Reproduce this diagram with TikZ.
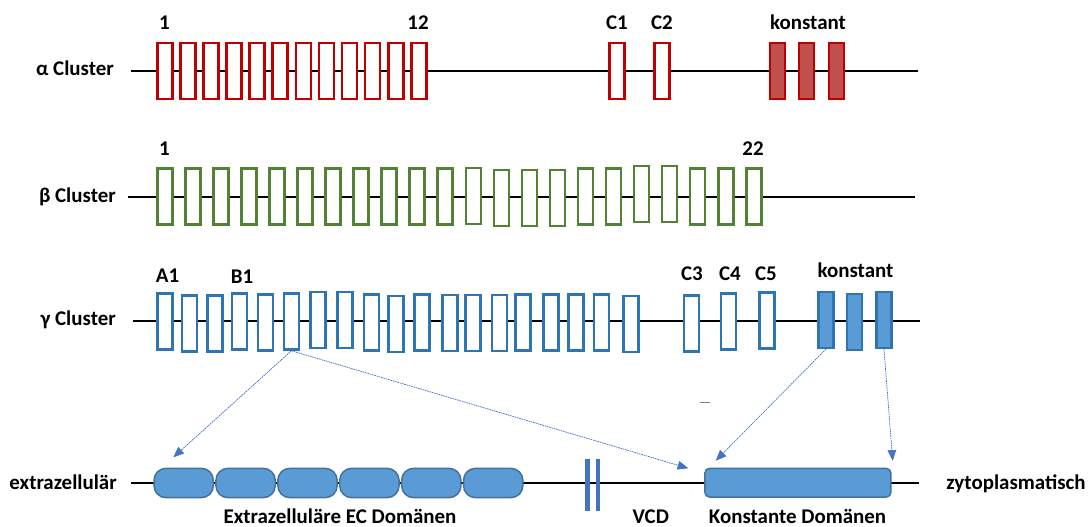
\documentclass[tikz,border=0pt]{standalone}
\usepackage{fontspec}
\setmainfont{Carlito}
\usetikzlibrary{arrows.meta}
\definecolor{redB}{HTML}{C00000}
\definecolor{redF}{HTML}{C0504D}
\definecolor{grnB}{HTML}{548235}
\definecolor{bluB}{HTML}{2E75B6}
\definecolor{bluF}{HTML}{5B9BD5}
\definecolor{bluD}{HTML}{41719C}
\definecolor{arrC}{HTML}{4472C4}
\begin{document}
\begin{tikzpicture}[x=0.75pt,y=-0.75pt,
  lbl/.style={font=\fontsize{15.7}{18}\selectfont\bfseries, inner sep=0, anchor=base},
  backbone/.style={draw=black, line width=1.1pt},
  exon/.style={draw, line width=1.9pt, fill=white, minimum width=11.25pt, minimum height=42pt, inner sep=0},
  aex/.style={exon, draw=redB},
  akon/.style={exon, draw=redB, fill=redF},
  bex/.style={exon, draw=grnB},
  gex/.style={exon, draw=bluB},
  gkon/.style={exon, draw=bluB, fill=bluF},
  ecdom/.style={draw=bluD, line width=1.1pt, fill=bluF, minimum width=44.5pt, minimum height=22pt, inner sep=0, rounded corners=9pt},
  kdom/.style={draw=bluD, line width=1.1pt, fill=bluF, minimum width=139.5pt, minimum height=21.5pt, inner sep=0, rounded corners=3.5pt},
  vbar/.style={fill=arrC, draw=none, minimum width=3.6pt, minimum height=39pt, inner sep=0},
  link/.style={draw=arrC, line width=0.55pt, dash pattern=on 1.2pt off 0.6pt, -{Triangle[length=8pt,width=6.5pt]}}
]
\useasboundingbox (0,0) rectangle (1088,527);

% ---------- backbones ----------
\coordinate (aL) at (131,71);   \coordinate (aR) at (918,71);
\coordinate (bL) at (128,197);  \coordinate (bR) at (915,197);
\coordinate (gL) at (133,321);  \coordinate (gR) at (920,321);
\coordinate (eL) at (131,483);  \coordinate (eR) at (919,483);
\draw[backbone] (aL) -- (aR);
\draw[backbone] (bL) -- (bR);
\draw[backbone] (gL) -- (gR);
\draw[backbone] (eL) -- (eR);

% ---------- alpha cluster ----------
\node[lbl, anchor=base east] (alab) at (114,76) {α Cluster};
\foreach \i in {1,...,12}{
  \node[aex] (a\i) at ({164.75+23.1*(\i-1)},71) {};
}
\node[aex] (ac1) at (617,71) {};
\node[aex] (ac2) at (662,71) {};
\node[akon] (ak1) at (777.5,71) {};
\node[akon] (ak2) at (806.7,71) {};
\node[akon] (ak3) at (836.5,71) {};
\node[lbl] (at1) at (164.5,29.5) {1};
\node[lbl] (at12) at (418,29.5) {12};
\node[lbl] (atc1) at (617,29.5) {C1};
\node[lbl] (atc2) at (662,29.5) {C2};
\node[lbl] (atk) at (808,29.5) {konstant};

% ---------- beta cluster ----------
\node[lbl, anchor=base east] (blab) at (116,203) {β Cluster};
\foreach \i/\dy in {1/0,2/0,3/0,4/0,5/0,6/0,7/0,8/0,9/0,10/0,11/0,12/-0.5,13/1.5,14/1.5,15/1.5,16/0,17/0,18/-2.5,19/-2.5,20/0,21/0,22/0}{
  \node[bex] (b\i) at ({164.75+28.05*(\i-1)},{196.3+\dy}) {};
}
\node[lbl] (bt1) at (164.5,156) {1};
\node[lbl] (bt22) at (753,156) {22};

% ---------- gamma cluster ----------
\node[lbl, anchor=base east] (glab) at (116,325) {γ Cluster};
\foreach \x/\dy [count=\i] in {156/-1,180.7/1,206/1,230.7/-1,256.7/0,282.7/-1,309/-2.5,336/-2.5,362.7/0,387.3/1.5,413/0,441/0.7,464/0.7,490.7/0.7,514.3/0,542/0,567.3/0,592.7/0,622/1.5}{
  \node[gex] (g\i) at ({\x+8.75},{322.5+\dy}) {};
}
\node[gex] (gc3) at (691.3,323.5) {};
\node[gex] (gc4) at (728.7,321.5) {};
\node[gex] (gc5) at (767,320.7) {};
\node[gkon] (gk1) at (826,319.8) {};
\node[gkon] (gk2) at (854.5,321.8) {};
\node[gkon] (gk3) at (884,319.8) {};
\node[lbl] (gtA) at (167.5,282.5) {A1};
\node[lbl] (gtB) at (242,283) {B1};
\node[lbl] (gt3) at (692,280.5) {C3};
\node[lbl] (gt4) at (730,281) {C4};
\node[lbl] (gt5) at (766,280.5) {C5};
\node[lbl] (gtk) at (855.5,277) {konstant};

% ---------- protein ----------
\node[lbl, anchor=base east] (elab) at (117,489) {extrazellulär};
\node[lbl, anchor=base west] (zlab) at (946,489) {zytoplasmatisch};
\foreach \i in {1,...,6}{
  \node[ecdom] (ec\i) at ({183.7+61.9*(\i-1)},483) {};
}
\node[vbar] (v1) at (587.5,484.5) {};
\node[vbar] (v2) at (598,484.5) {};
\node[kdom] (kd) at (797.9,482.7) {};
\node[lbl] (ecl) at (340,523) {Extrazelluläre EC Domänen};
\node[lbl] (vcdl) at (650.8,523) {VCD};
\node[lbl] (kdl) at (797.5,523) {Konstante Domänen};

% stray mark
\coordinate (m1) at (699.5,402.7); \coordinate (m2) at (710,402.7);
\draw[gray, line width=0.6pt] (m1) -- (m2);

% ---------- connectors ----------
\coordinate (t1) at (173.3,457.3);
\coordinate (t2) at (688.3,468.3);
\coordinate (t3) at (715.7,460.7);
\coordinate (t4) at (892.7,460.7);
\draw[link] (g6.south) -- (t1);
\draw[link] (g6.south) -- (t2);
\draw[link] (gk1.south) -- (t3);
\draw[link] (gk3.south) -- (t4);
\end{tikzpicture}
\end{document}
